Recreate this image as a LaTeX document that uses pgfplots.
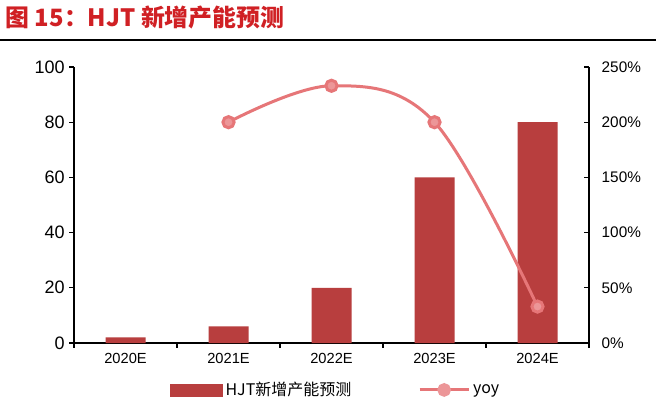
\documentclass[border=0pt]{standalone}
\usepackage{fontspec}
\usepackage{pgfplots}
\pgfplotsset{compat=1.18}
\setmainfont{Liberation Sans}
\newfontfamily\cjk{Noto Sans CJK SC}

\definecolor{barred}{RGB}{184,62,62}
\definecolor{titlered}{RGB}{208,32,36}
\definecolor{linepink}{RGB}{230,118,120}
\definecolor{markpink}{RGB}{236,150,152}

\begin{document}
\begin{tikzpicture}
\useasboundingbox (0,0) rectangle (492pt,306pt);
\fill[white] (0,0) rectangle (492pt,306pt);
\node[anchor=west, text=titlered, inner sep=0pt,
      font=\cjk\bfseries\fontsize{17.9}{20}\selectfont] at (4pt,293pt) {图 15：HJT 新增产能预测};
\draw[line width=1.5pt] (0pt,276pt) -- (492pt,276pt);

% capacity bars, left axis
\begin{axis}[
    at={(55.5pt,48.75pt)}, anchor=south west,
    scale only axis, width=386.25pt, height=207pt,
    xmin=-0.5, xmax=4.5, ymin=0, ymax=100,
    axis x line*=bottom, axis y line*=left,
    axis line style={line width=1.1pt},
    xtick={0,1,2,3,4},
    xticklabels={2020E,2021E,2022E,2023E,2024E},
    major x tick style={draw=none},
    minor xtick={-0.5,0.5,1.5,2.5,3.5,4.5},
    ytick={0,20,40,60,80,100},
    tick align=outside,
    tick style={black, line width=0.9pt},
    major tick length=3.5pt, minor tick length=3.5pt,
    /pgf/number format/assume math mode=true,
    x tick label style={font=\fontsize{11}{12}\selectfont, yshift=-1pt},
    y tick label style={font=\fontsize{13.5}{15}\selectfont},
    ybar, bar width=30pt,
]
\addplot[fill=barred, draw=none] coordinates {
    (0,2) (1,6) (2,20) (3,60) (4,80)
};
\end{axis}

% yoy line, right axis
\begin{axis}[
    at={(55.5pt,48.75pt)}, anchor=south west,
    scale only axis, width=386.25pt, height=207pt,
    xmin=-0.5, xmax=4.5, ymin=0, ymax=250,
    axis x line=none, axis y line*=right,
    axis line style={line width=1.1pt},
    ytick={0,50,100,150,200,250},
    yticklabels={0\%,50\%,100\%,150\%,200\%,250\%},
    tick align=inside,
    tick style={black, line width=0.9pt},
    major tick length=3.5pt,
    y tick label style={font=\fontsize{11.5}{13}\selectfont, xshift=6pt},
    legend columns=2,
    legend style={at={(0.509,-0.17)}, anchor=center, draw=none, fill=none,
        font=\cjk\fontsize{12}{14}\selectfont,
        /tikz/every even column/.append style={column sep=48pt}},
]
\addlegendimage{legend image code/.code={
    \fill[barred] (0pt,-4.5pt) rectangle (39pt,4.5pt);}}
\addlegendentry{HJT新增产能预测}
\addplot[linepink, line width=2.25pt, smooth, tension=0.6,
    mark=*, mark size=4.2pt, mark options={draw=none, fill=markpink},
    legend image code/.code={
    \draw[linepink, line width=2.25pt] (0pt,0pt) -- (37pt,0pt);
    \fill[markpink] (18.5pt,0pt) circle (4pt);}] coordinates {
    (1,200) (2,233) (3,200) (4,33)
};
\addlegendentry{yoy}
\end{axis}
\end{tikzpicture}
\end{document}
